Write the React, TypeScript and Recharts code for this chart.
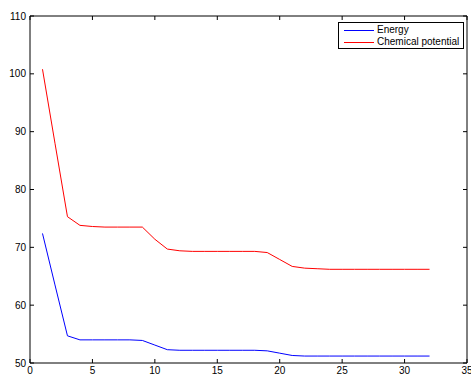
import React from "react";
import { LineChart, Line, XAxis, YAxis, Legend } from "recharts";

// iteration index
const steps = [
  1, 2, 3, 4, 5, 6, 7, 8, 9, 10, 11, 12, 13, 14, 15, 16,
  17, 18, 19, 20, 21, 22, 23, 24, 25, 26, 27, 28, 29, 30, 31, 32,
];

const energy = [
  72.4, 63.5, 54.7, 54.0, 54.0, 54.0, 54.0, 54.0, 53.9, 53.1, 52.3, 52.2, 52.2, 52.2, 52.2, 52.2,
  52.2, 52.2, 52.1, 51.7, 51.3, 51.2, 51.2, 51.2, 51.2, 51.2, 51.2, 51.2, 51.2, 51.2, 51.2, 51.2,
];

const chemPotential = [
  100.8, 88.0, 75.3, 73.8, 73.6, 73.5, 73.5, 73.5, 73.5, 71.4, 69.7, 69.4, 69.3, 69.3, 69.3, 69.3,
  69.3, 69.3, 69.1, 67.9, 66.7, 66.4, 66.3, 66.2, 66.2, 66.2, 66.2, 66.2, 66.2, 66.2, 66.2, 66.2,
];

const xTicks = [0, 5, 10, 15, 20, 25, 30, 35];
const yTicks = [50, 60, 70, 80, 90, 100, 110];

const legendItems = [
  { name: "Energy", color: "#0000ff" },
  { name: "Chemical potential", color: "#ff0000" },
];

const data = steps.map((x, i) => ({ x, energy: energy[i], chem: chemPotential[i] }));

const FONT = "'Liberation Sans', Arial, sans-serif";
const TICK = 4;

const BottomTick = ({ x, y, payload }: any) => (
  <g>
    <line x1={x} x2={x} y1={y} y2={y - TICK} stroke="#000" />
    <text x={x} y={y + 11} textAnchor="middle" fontSize={10} fontFamily={FONT} fill="#000">
      {payload.value}
    </text>
  </g>
);

const TopTick = ({ x, y }: any) => (
  <line x1={x} x2={x} y1={y} y2={y + TICK} stroke="#000" />
);

const LeftTick = ({ x, y, payload }: any) => (
  <g>
    <line x1={x} x2={x + TICK} y1={y} y2={y} stroke="#000" />
    <text x={x - 4} y={y + 3.5} textAnchor="end" fontSize={10} fontFamily={FONT} fill="#000">
      {payload.value}
    </text>
  </g>
);

const RightTick = ({ x, y }: any) => (
  <line x1={x} x2={x - TICK} y1={y} y2={y} stroke="#000" />
);

const LegendBox = () => (
  <div
    style={{
      width: 126,
      height: 27,
      border: "1px solid #000",
      background: "#fff",
      fontFamily: FONT,
      fontSize: 10,
      color: "#000",
      boxSizing: "border-box",
      padding: "1px 0 0 5px",
      lineHeight: "12px",
    }}
  >
    {legendItems.map((it) => (
      <div key={it.name} style={{ display: "flex", alignItems: "center", height: 12 }}>
        <span style={{ display: "inline-block", width: 30, height: 0, borderTop: `1px solid ${it.color}`, marginRight: 3 }} />
        <span>{it.name}</span>
      </div>
    ))}
  </div>
);

export default function App() {
  return (
    <div style={{ position: "absolute", left: 0, top: 0, width: 471, height: 376, background: "#fff" }}>
      <LineChart width={471} height={376} data={data} margin={{ top: 15, right: 3, bottom: 0, left: 0 }}>
        <XAxis
          dataKey="x"
          type="number"
          domain={[0, 35]}
          ticks={xTicks}
          interval={0}
          height={13}
          tickSize={0}
          tickMargin={0}
          tickLine={false}
          axisLine={{ stroke: "#000" }}
          tick={<BottomTick />}
        />
        <XAxis
          xAxisId="top"
          orientation="top"
          dataKey="x"
          type="number"
          domain={[0, 35]}
          ticks={xTicks}
          interval={0}
          height={1}
          tickSize={0}
          tickMargin={0}
          tickLine={false}
          axisLine={{ stroke: "#000" }}
          tick={<TopTick />}
        />
        <YAxis
          type="number"
          domain={[50, 110]}
          ticks={yTicks}
          interval={0}
          width={30}
          tickSize={0}
          tickMargin={0}
          tickLine={false}
          axisLine={{ stroke: "#000" }}
          tick={<LeftTick />}
        />
        <YAxis
          yAxisId="right"
          orientation="right"
          type="number"
          domain={[50, 110]}
          ticks={yTicks}
          interval={0}
          width={1}
          tickSize={0}
          tickMargin={0}
          tickLine={false}
          axisLine={{ stroke: "#000" }}
          tick={<RightTick />}
        />
        <Legend
          layout="horizontal"
          verticalAlign="middle"
          align="center"
          content={<LegendBox />}
          wrapperStyle={{ top: 22, left: 338, right: "auto", bottom: "auto", width: 126 }}
        />
        {/* invisible series so the top/right frame axes get drawn */}
        <Line
          xAxisId="top"
          yAxisId="right"
          dataKey="chem"
          stroke="none"
          dot={false}
          activeDot={false}
          legendType="none"
          isAnimationActive={false}
        />
        <Line
          type="linear"
          dataKey="energy"
          name="Energy"
          stroke="#0000ff"
          strokeWidth={1}
          dot={false}
          isAnimationActive={false}
        />
        <Line
          type="linear"
          dataKey="chem"
          name="Chemical potential"
          stroke="#ff0000"
          strokeWidth={1}
          dot={false}
          isAnimationActive={false}
        />
      </LineChart>
    </div>
  );
}
